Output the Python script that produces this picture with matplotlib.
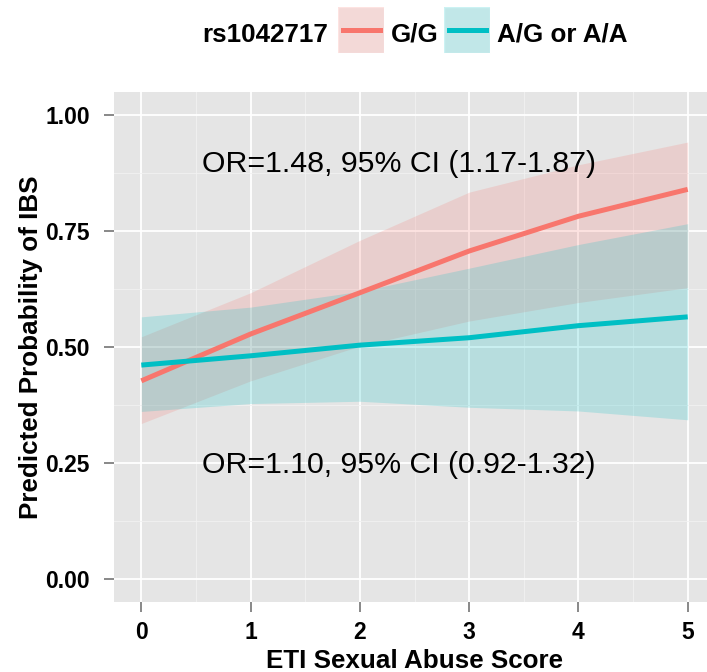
import matplotlib
matplotlib.use("Agg")
import matplotlib.pyplot as plt
from matplotlib.patches import Rectangle
from matplotlib.lines import Line2D
from matplotlib.ticker import MultipleLocator

plt.rcParams['font.family'] = ['Liberation Sans', 'DejaVu Sans']

# ---- data ----
x_vals = [0, 1, 2, 3, 4, 5]
gg_fit = [0.427, 0.528, 0.617, 0.707, 0.782, 0.840]
gg_lo = [0.335, 0.427, 0.502, 0.556, 0.596, 0.628]
gg_hi = [0.522, 0.617, 0.730, 0.834, 0.893, 0.942]
ag_fit = [0.461, 0.481, 0.504, 0.520, 0.546, 0.565]
ag_lo = [0.361, 0.378, 0.383, 0.370, 0.362, 0.343]
ag_hi = [0.565, 0.586, 0.620, 0.670, 0.721, 0.766]
x_ticks = [0, 1, 2, 3, 4, 5]
y_ticks = [0.00, 0.25, 0.50, 0.75, 1.00]
y_tick_labels = ["0.00", "0.25", "0.50", "0.75", "1.00"]
legend_title = "rs1042717"
group_labels = ["G/G", "A/G or A/A"]
annot_top = "OR=1.48, 95% CI (1.17-1.87)"
annot_bottom = "OR=1.10, 95% CI (0.92-1.32)"

RED = "#F8766D"
CYAN = "#00BFC4"

W, H = 707, 672
fig = plt.figure(figsize=(W / 100, H / 100), dpi=100)
fig.patch.set_facecolor("white")


def fx(px):
    return px / W


def fy(py):
    return 1 - py / H


AX_L, AX_R, AX_T, AX_B = 114, 715, 92, 602
ax = fig.add_axes([fx(AX_L), fy(AX_B), fx(AX_R) - fx(AX_L), fy(AX_T) - fy(AX_B)])
ax.set_facecolor("#E5E5E5")
ax.set_xlim(-0.25, 5.25)
ax.set_ylim(-0.05, 1.05)

ax.set_xticks(x_ticks)
ax.set_yticks(y_ticks)
ax.set_yticklabels(y_tick_labels)
ax.xaxis.set_minor_locator(MultipleLocator(0.5))
ax.yaxis.set_minor_locator(MultipleLocator(0.125))
ax.set_axisbelow(True)
ax.grid(which="major", color="white", linewidth=1.3)
ax.grid(which="minor", color="#F2F2F2", linewidth=0.6)
for s in ax.spines.values():
    s.set_visible(False)
ax.tick_params(which="major", length=7.5, width=1.3, color="#7F7F7F",
               labelsize=16.5)
ax.tick_params(axis="x", which="major", pad=6.3)
ax.tick_params(axis="y", which="major", pad=10)
ax.tick_params(which="minor", length=0)
for lab in ax.get_xticklabels() + ax.get_yticklabels():
    lab.set_fontweight("bold")
    lab.set_color("black")

ax.fill_between(x_vals, gg_lo, gg_hi, color=RED, alpha=0.2, linewidth=0)
ax.fill_between(x_vals, ag_lo, ag_hi, color=CYAN, alpha=0.2, linewidth=0)
ax.plot(x_vals, gg_fit, color=RED, linewidth=3.6, solid_capstyle="butt")
ax.plot(x_vals, ag_fit, color=CYAN, linewidth=3.6, solid_capstyle="butt")

ax.text(2.36, 0.895, annot_top, ha="center", va="center", fontsize=21.8)
ax.text(2.36, 0.245, annot_bottom, ha="center", va="center", fontsize=21.8)

ax.set_xlabel("ETI Sexual Abuse Score", fontsize=18.7, fontweight="bold")
ax.set_ylabel("Predicted Probability of IBS", fontsize=18.7, fontweight="bold")
axw = AX_R - AX_L
axh = AX_B - AX_T
ax.xaxis.label.set_va("baseline")
ax.xaxis.set_label_coords(0.5, -(668 - AX_B) / axh)
ax.yaxis.label.set_va("baseline")
ax.yaxis.set_label_coords(-(AX_L - 38) / axw, 0.5)

# ---- legend drawn manually ----
base = 41.5
ly = 29.7
fig.text(fx(202.7), fy(base), legend_title, fontsize=18.7, fontweight="bold",
         ha="left", va="baseline")
for (x0, col, lab, tx) in [(338, RED, group_labels[0], 391),
                           (444, CYAN, group_labels[1], 497)]:
    fig.add_artist(Rectangle((fx(x0), fy(52.7)), fx(46), fy(6.7) - fy(52.7),
                             transform=fig.transFigure, facecolor="#F2F2F2",
                             edgecolor="white", linewidth=1))
    fig.add_artist(Rectangle((fx(x0), fy(52.7)), fx(46), fy(6.7) - fy(52.7),
                             transform=fig.transFigure, facecolor=col,
                             alpha=0.2, edgecolor="none"))
    fig.add_artist(Line2D([fx(x0 + 5), fx(x0 + 42)], [fy(ly), fy(ly)],
                          transform=fig.transFigure, color=col, linewidth=3.6))
    fig.text(fx(tx), fy(base), lab, fontsize=18.7, fontweight="bold",
             ha="left", va="baseline")

fig.savefig("out.png", dpi=100)
